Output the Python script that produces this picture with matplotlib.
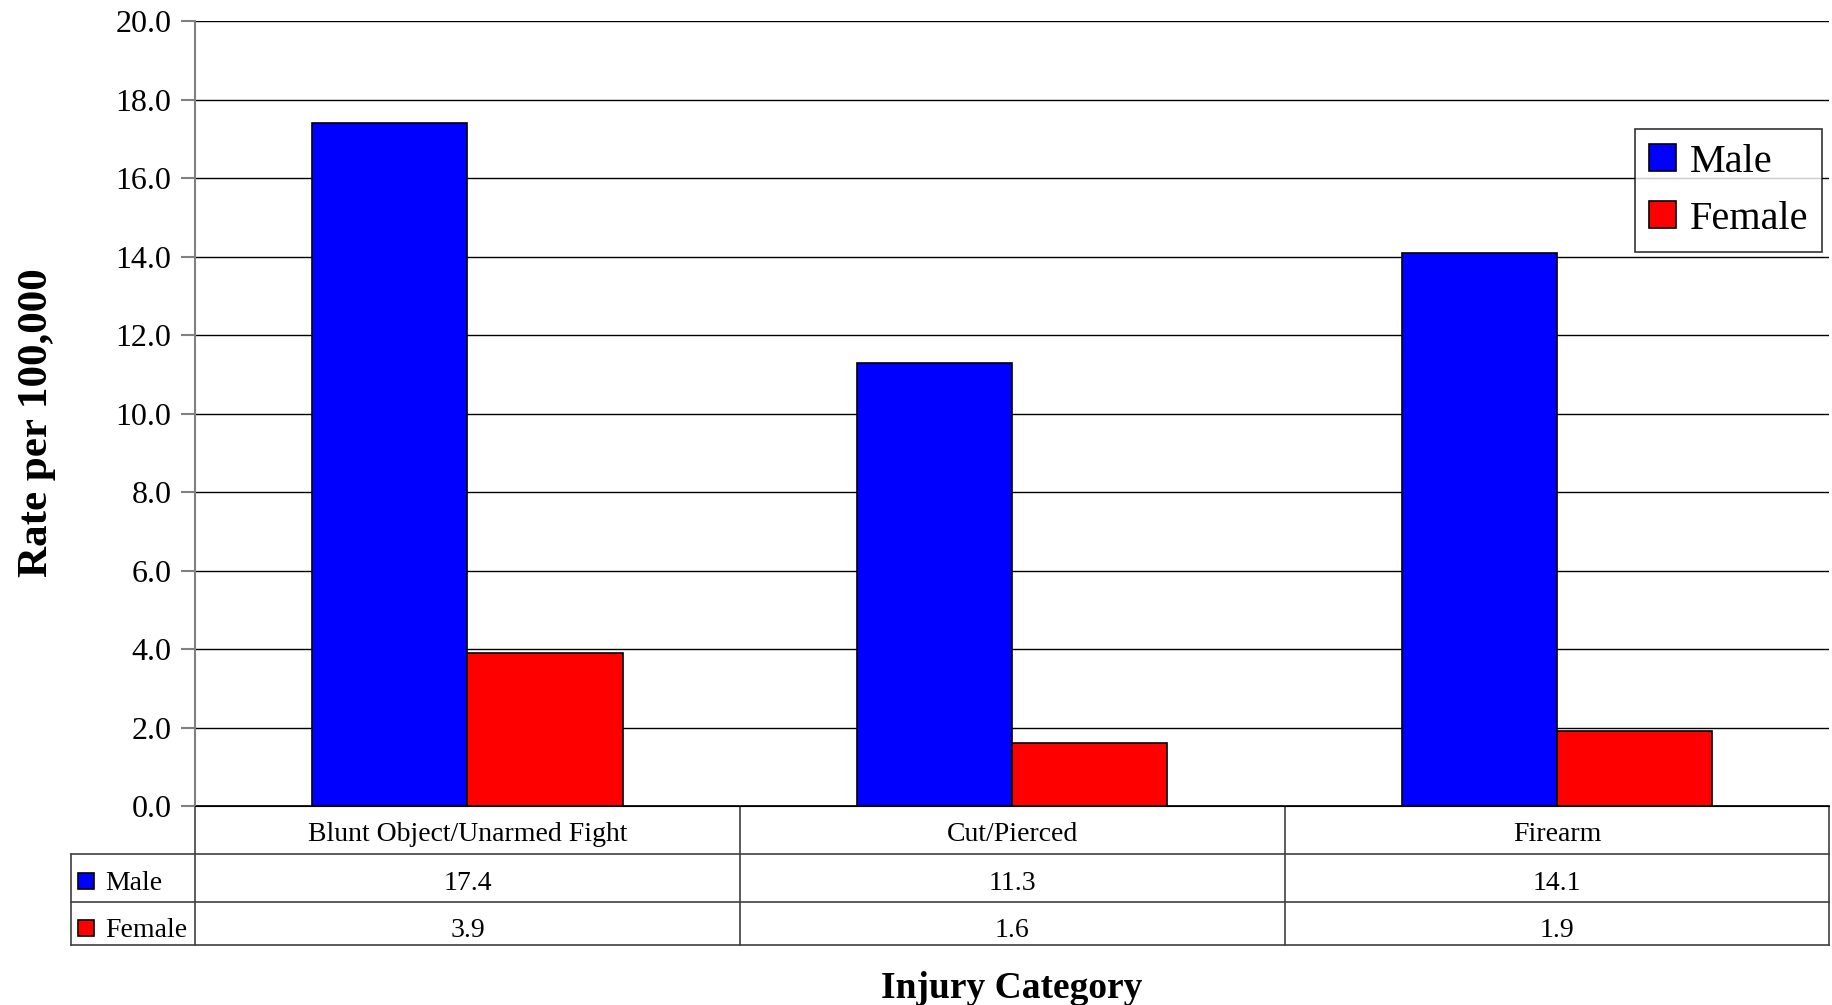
import numpy as np
import matplotlib.pyplot as plt
from matplotlib.patches import Rectangle

categories = ["Blunt Object/Unarmed Fight", "Cut/Pierced", "Firearm"]
series = ["Male", "Female"]
male = [17.4, 11.3, 14.1]
female = [3.9, 1.6, 1.9]
colors = ["#0000FF", "#FF0000"]

plt.rcParams['font.family'] = ['Liberation Serif', 'DejaVu Serif']

fig = plt.figure(figsize=(18.32, 10.05), dpi=100)
ax = fig.add_axes([0.1065, 0.198, 0.892, 0.781])

x = np.arange(len(categories))
w = 0.285
ax.bar(x - w / 2, male, w, color=colors[0], edgecolor="black", linewidth=1.2, label=series[0], zorder=3)
ax.bar(x + w / 2, female, w, color=colors[1], edgecolor="black", linewidth=1.2, label=series[1], zorder=3)

ax.set_xlim(-0.5, len(categories) - 0.5)
ax.set_ylim(0, 20)
ax.set_yticks(np.arange(0, 20.1, 2))
ax.set_yticklabels([f"{v:.1f}" for v in np.arange(0, 20.1, 2)], fontsize=23)
ax.yaxis.grid(True, color="black", linewidth=1)
ax.set_axisbelow(True)
ax.set_xticks([])
for s in ["top", "right"]:
    ax.spines[s].set_visible(False)
ax.spines["left"].set_color("#808080")
ax.spines["left"].set_linewidth(1.5)
ax.spines["bottom"].set_color("black")
ax.tick_params(axis="y", direction="out", length=10, color="#808080", width=1.5, pad=7)

ax.set_ylabel("Rate per 100,000", fontsize=31, fontweight="bold", va="center")
ax.yaxis.set_label_coords(-0.097, 0.488)
ax.set_xlabel("Injury Category", fontsize=27, fontweight="bold", va="center")
ax.xaxis.set_label_coords(0.5, -0.233)

leg = ax.legend(loc="upper right", bbox_to_anchor=(0.9957, 0.862), fontsize=29, frameon=True,
                fancybox=False, edgecolor="black", handlelength=0.65, handleheight=0.65,
                handletextpad=0.35, borderpad=0.35, labelspacing=0.5, borderaxespad=0)
leg.get_frame().set_linewidth(1.2)

# data table below the axes
tl = -0.0759
rows = [0, -0.0611, -0.1223, -0.1771]
lc = "#404040"
ax.plot([0, 1], [rows[0]] * 2, transform=ax.transAxes, color="black", lw=1.2, clip_on=False)
for r in rows[1:]:
    ax.plot([tl, 1], [r, r], transform=ax.transAxes, color=lc, lw=1.2, clip_on=False)
ax.plot([tl, tl], [rows[1], rows[3]], transform=ax.transAxes, color=lc, lw=1.2, clip_on=False)
for xv in [0, 1]:
    ax.plot([xv, xv], [rows[0], rows[3]], transform=ax.transAxes, color=lc, lw=1.2, clip_on=False)
trans = ax.get_xaxis_transform()
for xb in x[:-1] + 0.5:
    ax.plot([xb, xb], [rows[0], rows[3]], transform=trans, color=lc, lw=1.2, clip_on=False)

for i, c in enumerate(categories):
    ax.text(x[i], -0.0363, c, transform=trans, ha="center", va="center", fontsize=20)
for vals, yc in [(male, -0.0985), (female, -0.1585)]:
    for i, v in enumerate(vals):
        ax.text(x[i], yc, f"{v:.1f}", transform=trans, ha="center", va="center", fontsize=20)

sq_w = 16 / 1634
sq_h = 16 / 785
for name, col, yc in [(series[0], colors[0], -0.0985), (series[1], colors[1], -0.1585)]:
    ax.add_patch(Rectangle((-0.0716, yc - sq_h / 2 + 0.003), sq_w, sq_h, transform=ax.transAxes,
                           facecolor=col, edgecolor="black", lw=1.2, clip_on=False))
    ax.text(-0.0551, yc, name, transform=ax.transAxes, ha="left", va="center", fontsize=20)

fig.savefig("out.png", dpi=100)
